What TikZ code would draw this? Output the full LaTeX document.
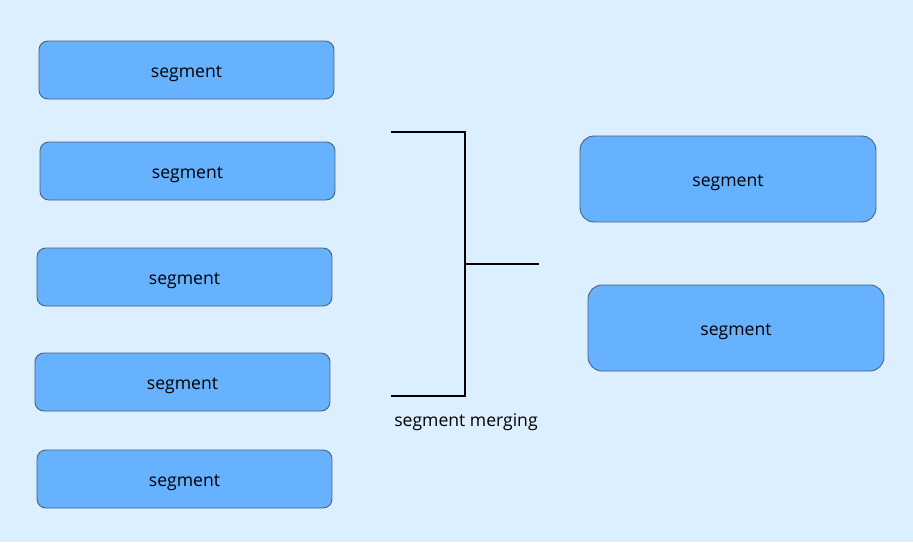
\documentclass[tikz,border=0pt]{standalone}
\usepackage{fontspec}
\setmainfont{Open Sans}
\usetikzlibrary{positioning,calc}
\definecolor{bgblue}{HTML}{DBEFFE}
\definecolor{segfill}{HTML}{66B2FF}
\definecolor{segline}{HTML}{4A5F78}
\tikzset{
segbox/.style={draw=segline,fill=segfill,rounded corners=5pt,line width=0.5pt,minimum width=5.9cm,minimum height=1.16cm,inner sep=0pt,text height=8.5pt,text depth=0pt,font=\fontsize{10}{12}\selectfont},
bigbox/.style={segbox,minimum width=5.92cm,minimum height=1.72cm,rounded corners=8pt},
bracket/.style={draw=black,line width=0.6pt},
caption/.style={text height=8.5pt,text depth=0pt,font=\fontsize{10}{12}\selectfont}
}

\begin{document}
\begin{tikzpicture}[x=0.02cm,y=-0.02cm]
\fill[bgblue] (0,0) rectangle (913,542);
\useasboundingbox (0,0) rectangle (913,542);
% input segments
\node[segbox] (s1) at (186.5,70) {segment};
\node[segbox] (s2) at (187.5,171) {segment};
\node[segbox] (s3) at (184.5,277) {segment};
\node[segbox] (s4) at (182.5,382) {segment};
\node[segbox] (s5) at (184.5,479) {segment};
% merged segments
\node[bigbox] (m1) at (728,179) {segment};
\node[bigbox] (m2) at (736,328) {segment};
% merge bracket
\coordinate (topL) at (391,132);
\coordinate (topR) at (465,132);
\coordinate (botL) at (391,396);
\coordinate (botR) at (465,396);
\coordinate (midL) at (465,264);
\coordinate (midR) at (539,264);
\draw[bracket] (topL) -- (topR) -- (botR) -- (botL);
\draw[bracket] (midL) -- (midR);
\node[caption] (merge) at (466,419) {segment merging};
\end{tikzpicture}
\end{document}
